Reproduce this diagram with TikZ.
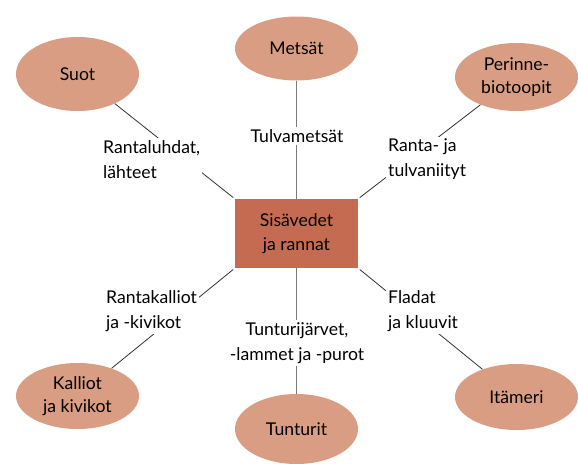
\documentclass[tikz,border=0pt]{standalone}
\usepackage{fontspec}
\setmainfont{Lato}
\usetikzlibrary{shapes.geometric}
\definecolor{habitat}{RGB}{217,157,132}
\definecolor{hub}{RGB}{197,107,81}
\definecolor{spoke}{RGB}{50,50,50}
\definecolor{axis}{RGB}{120,120,120}
\begin{document}
\begin{tikzpicture}[x=1pt,y=-1pt,
  every node/.style={font=\fontsize{17.6}{24}\selectfont, text=black},
  habitatnode/.style={ellipse, fill=habitat, inner sep=0pt, align=center},
  hubnode/.style={rectangle, fill=hub, minimum width=123pt, minimum height=69pt, inner sep=0pt, align=center},
  edgelabel/.style={fill=white, inner sep=2pt, font=\fontsize{17.6}{25}\selectfont},
  diag/.style={draw=spoke, line width=0.8pt, shorten >=2pt},
  vert/.style={draw=axis, line width=1.8pt}]
\useasboundingbox (0,0) rectangle (578,463);

% hub and surrounding habitats
\node[hubnode] (hub) at (296.5,233.5) {Sisävedet\\ja rannat};
\node[habitatnode, minimum width=123pt, minimum height=74pt] (suot) at (77.5,74) {Suot};
\node[habitatnode, minimum width=123pt, minimum height=64pt] (metsat) at (296.5,48.5) {Metsät};
\node[habitatnode, minimum width=123pt, minimum height=68pt, font=\fontsize{17.6}{23}\selectfont] (perinne) at (516.5,77) {Perinne-\\biotoopit};
\node[habitatnode, minimum width=123pt, minimum height=66pt, font=\fontsize{17.6}{23}\selectfont] (kalliot) at (77.5,396) {Kalliot\\ja kivikot};
\node[habitatnode, minimum width=123pt, minimum height=70pt] (tunturit) at (296.5,429) {Tunturit};
\node[habitatnode, minimum width=123pt, minimum height=66pt] (itameri) at (516.5,397) {Itämeri};

% connectors
\draw[diag] (suot) -- (hub.north west);
\draw[diag] (perinne) -- (hub.north east);
\draw[diag] (kalliot) -- (hub.south west);
\draw[diag] (itameri) -- (hub.south east);
\draw[vert] (metsat) -- (hub);
\draw[vert] (tunturit) -- (hub);
\node[hubnode] at (hub) {Sisävedet\\ja rannat};

% labels on connectors
\node[edgelabel, align=left, anchor=west] (l1) at (101,159.5) {Rantaluhdat,\\lähteet};
\node[edgelabel, align=center] (l2) at (297,136) {Tulvametsät};
\node[edgelabel, align=left, anchor=west] (l3) at (386,159.5) {Ranta- ja\\tulvaniityt};
\node[edgelabel, align=left, anchor=west] (l4) at (104,311.5) {Rantakalliot\\ja -kivikot};
\node[edgelabel, align=center] (l5) at (297,343) {Tunturijärvet,\\-lammet ja -purot};
\node[edgelabel, align=left, anchor=west] (l6) at (386,311.5) {Fladat\\ja kluuvit};
\end{tikzpicture}
\end{document}
